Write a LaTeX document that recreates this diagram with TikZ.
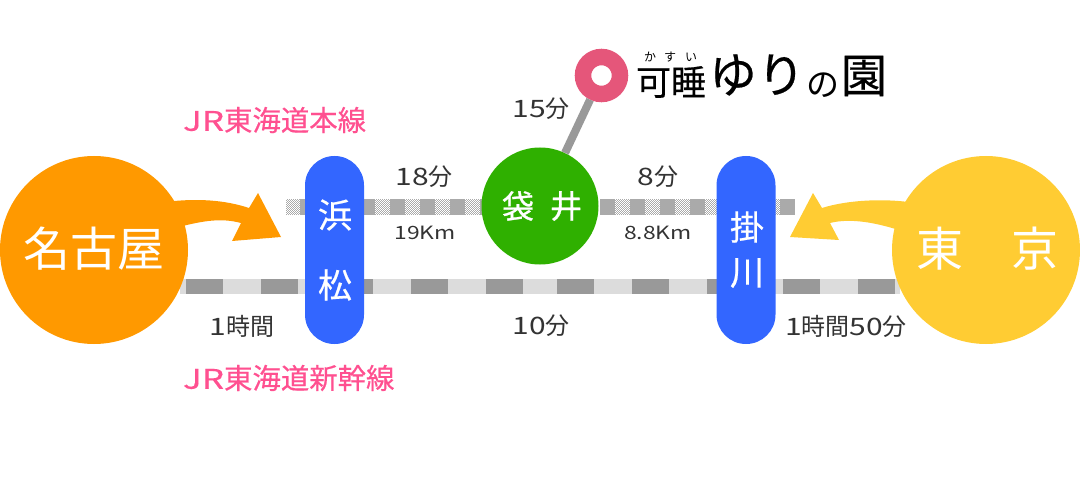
\documentclass[tikz,border=0pt]{standalone}
\usepackage{fontspec}
\setmainfont{Noto Sans CJK JP}
\newfontfamily\jp{Noto Sans CJK JP}
\newfontfamily\jpmed[FakeBold=0.5]{Noto Sans CJK JP}
\newfontfamily\jpheavy[FakeBold=0.9]{Noto Sans CJK JP}
\newfontfamily\wide[FakeStretch=1.25]{Noto Sans CJK JP}
\newfontfamily\widebold[FakeStretch=1.3,FakeBold=0.5]{Noto Sans CJK JP}
\definecolor{railD}{HTML}{999999}
\definecolor{railL}{HTML}{DCDCDC}
\definecolor{railU}{HTML}{AAAAAA}
\definecolor{orangeC}{HTML}{FF9900}
\definecolor{yellowC}{HTML}{FFCC33}
\definecolor{blueC}{HTML}{3366FF}
\definecolor{greenC}{HTML}{2FB000}
\definecolor{roseC}{HTML}{E5567A}
\definecolor{pinkT}{HTML}{FF5090}
\definecolor{labelC}{HTML}{333333}
\newcommand{\fsz}[1]{\fontsize{#1}{#1}\selectfont}
\tikzset{
  city/.style={circle,draw=none,inner sep=0pt,minimum size=188pt},
  stopbox/.style={rectangle,rounded corners=29.4pt,fill=blueC,draw=none,inner sep=0pt,minimum width=59pt,minimum height=188pt},
  plain/.style={inner sep=0pt,outer sep=0pt},
  citytext/.style={plain,text=white,font=\jp\fsz{47}},
  stoptext/.style={plain,text=white,font=\jpmed\fsz{34}},
  fukutext/.style={plain,text=white,font=\jpheavy\fsz{32}},
  lab/.style={plain,text=labelC,font=\jp\fsz{24}},
  smalllab/.style={plain,text=labelC,font=\jp\fsz{18.3}},
  lineT/.style={plain,text=pinkT,anchor=west,font=\jpmed\fsz{28.4}},
  logo/.style={plain,text=black,anchor=center},
}
\newcommand{\jr}{{\widebold\fontsize{27}{27}\selectfont JR}}
\begin{document}
\begin{tikzpicture}[x=1pt,y=-1pt]
\useasboundingbox (0,0) rectangle (1080,500);
% lower rail
\fill[railL] (180,279) rectangle (900,294);
\foreach \x in {186,261,336,411,486,557,632,707,783,858} \fill[railD] (\x,279) rectangle +(37,15);
% upper rail
\foreach \x in {300,330,...,780} \fill[railU] (\x,199) rectangle +(15,16);
\foreach \s/\w in {286/14,375/15,405/15,435/15,465/15,615/15,645/15,675/15,705/15,765/15}{
  \foreach \i in {1,...,\w}{
    \foreach \j in {0,...,15}{
      \pgfmathtruncatemacro{\parity}{mod(\i+\j,2)}
      \ifnum\parity=0
        \fill[railU] (\s+\i-1,199+\j) rectangle +(1,1);
      \fi
    }
  }
}
% arrows
\fill[orangeC] (165,202) .. controls (197,198) and (225,200) .. (249,208)
  -- (258,193) -- (281,237) -- (232,241) -- (241,223)
  .. controls (222,218) and (205,220) .. (175,228) -- cycle;
\fill[yellowC] (915,203) .. controls (885,198) and (847,200) .. (822,208)
  -- (813,193) -- (790,237) -- (839,240) -- (830,223)
  .. controls (850,218) and (875,222) .. (905,232) -- cycle;
% circles and stations
\node[city,fill=orangeC] (nagoya) at (94,250) {};
\node[city,fill=yellowC] (tokyo) at (986,250) {};
\node[stopbox] (hama) at (334.5,250) {};
\node[stopbox] (kake) at (746,250) {};
\node[circle,fill=greenC,draw=none,inner sep=0pt,minimum size=117pt] (fukuroi) at (540,206) {};
\node[circle,fill=white,draw=roseC,line width=16.5pt,inner sep=0pt,minimum size=37pt] (yuri) at (601.5,75.5) {};
\draw[railD,line width=8pt] (fukuroi) -- (yuri);
% station text
\node[citytext] (t1) at (94,249) {名古屋};
\node[citytext] (t2) at (987.5,249) {東\hspace{49pt}京};
\node[stoptext] (t3) at (335,215) {浜};
\node[stoptext] (t4) at (335,285) {松};
\node[stoptext] (t5) at (747,227) {掛};
\node[stoptext] (t6) at (747,273) {川};
\node[fukutext] (t7) at (518,206) {袋};
\node[fukutext] (t8) at (566,206) {井};
% labels
\node[lab] (l1) at (541,109) {{\wide 15}分};
\node[lab] (l2) at (424,177) {{\wide 18}分};
\node[lab] (l3) at (658,177) {{\wide 8}分};
\node[smalllab] (l4) at (425,233) {{\wide 19Km}};
\node[smalllab] (l5) at (658,233) {{\wide 8.8Km}};
\node[lab] (l6) at (242,326) {{\wide 1}時間};
\node[lab] (l7) at (541,326) {{\wide 10}分};
\node[lab] (l8) at (846,326) {{\wide 1}時間{\wide 50}分};
\node[lineT] (j1) at (183,120) {\jr 東海道本線};
\node[lineT] (j2) at (183,378) {\jr 東海道新幹線};
% logo
\node[logo,font=\jpmed\fsz{35}] (g1) at (671,82) {可睡};
\node[logo,font=\jp\fsz{12}] (g2a) at (650,57) {か};
\node[logo,font=\jp\fsz{12}] (g2b) at (670,57) {す};
\node[logo,font=\jp\fsz{12}] (g2c) at (691,57) {い};
\node[logo,font=\jpmed\fsz{48}] (g3) at (757,75) {ゆり};
\node[logo,font=\jp\fsz{33}] (g4) at (823,85) {の};
\node[logo,font=\jpmed\fsz{46}] (g5) at (864,76) {園};
\end{tikzpicture}
\end{document}
